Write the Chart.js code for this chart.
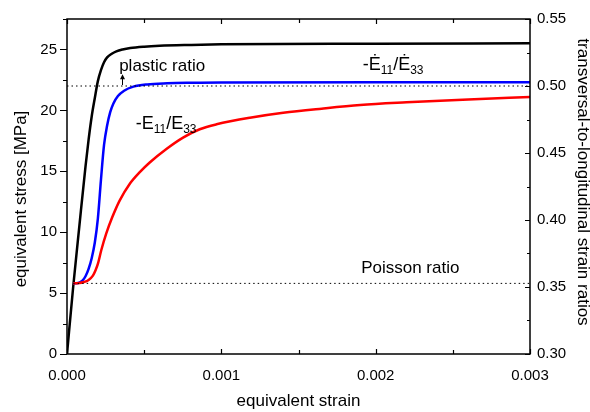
<!DOCTYPE html>
<html>
<head>
<meta charset="utf-8">
<script src="https://cdn.jsdelivr.net/npm/chart.js@4.4.1/dist/chart.umd.min.js"></script>
<style>
  html, body { margin: 0; padding: 0; background: #fff; }
  #wrap { width: 590px; height: 412px; position: relative; }
</style>
</head>
<body>
<div id="wrap"><canvas id="chart"></canvas></div>
<script>
// =========================
// DATA
// =========================
// black: equivalent stress vs equivalent strain (left axis)
const strainBlack = [0, 0.00004, 0.00008, 0.00012, 0.00014, 0.00016, 0.00018, 0.0002, 0.00022, 0.00024, 0.00026, 0.00029, 0.00032, 0.00036, 0.00041, 0.0005, 0.0006, 0.0008, 0.001, 0.002, 0.003];
const stressBlack = [0, 5.5, 10.5, 15.4, 17.6, 19.5, 21.0, 22.4, 23.3, 23.95, 24.35, 24.65, 24.85, 25.0, 25.12, 25.23, 25.3, 25.37, 25.42, 25.47, 25.5];

// blue: -dE11/dE33 (right axis)
const strainBlue = [0.00004, 0.00006, 0.00008, 0.0001, 0.00012, 0.00014, 0.00016, 0.00018, 0.0002, 0.00022, 0.00024, 0.00026, 0.00028, 0.0003, 0.00033, 0.00037, 0.00043, 0.00052, 0.00065, 0.0008, 0.001, 0.002, 0.003];
const ratioBlue = [0.3527, 0.3528, 0.3533, 0.3547, 0.358, 0.3635, 0.3715, 0.383, 0.401, 0.43, 0.456, 0.4705, 0.4805, 0.4868, 0.4925, 0.4965, 0.4995, 0.5012, 0.502, 0.5024, 0.5027, 0.5028, 0.5028];

// red: -E11/E33 (right axis)
const strainRed = [0.00004, 0.00008, 0.00011, 0.00014, 0.000168, 0.000185, 0.0002, 0.000222, 0.000254, 0.000293, 0.000341, 0.000406, 0.00047, 0.000536, 0.000644, 0.000752, 0.00086, 0.000969, 0.001185, 0.001401, 0.00165, 0.0019, 0.0022, 0.0026, 0.003];
const ratioRed = [0.3527, 0.3529, 0.3537, 0.3553, 0.3585, 0.3625, 0.3672, 0.3774, 0.3898, 0.402, 0.4145, 0.4269, 0.4355, 0.4429, 0.453, 0.4615, 0.4677, 0.4714, 0.4763, 0.48, 0.4831, 0.4858, 0.4878, 0.49, 0.4918];

// reference lines
const plasticRatio = 0.5;
const poissonRatio = 0.3527;
const plasticStrain = [0, 0.003];
const poissonStrain = [0.00004, 0.003];

// axes
const strainTicks = [0, 0.001, 0.002, 0.003];
const strainTickLabels = ["0.000", "0.001", "0.002", "0.003"];
const stressTicks = [0, 5, 10, 15, 20, 25];
const ratioTicks = [0.30, 0.35, 0.40, 0.45, 0.50, 0.55];
const ratioTickLabels = ["0.30", "0.35", "0.40", "0.45", "0.50", "0.55"];

const FONT = "'Liberation Sans', Arial, sans-serif";

function toPoints(xs, ys) {
    return xs.map((x, i) => ({ x: x, y: ys[i] }));
}

// =========================
// PLUGIN: frame, ticks, titles, labels
// =========================
const framePlugin = {
    id: 'frame',
    afterDraw(chart) {
        const ctx = chart.ctx;
        const a = chart.chartArea;
        const sx = chart.scales.x, yl = chart.scales.yL, yr = chart.scales.yR;
        ctx.save();
        ctx.strokeStyle = '#000';
        ctx.lineWidth = 1.5;
        ctx.strokeRect(a.left, a.top, a.right - a.left, a.bottom - a.top);

        ctx.lineWidth = 1.2;
        ctx.beginPath();
        // x ticks, inward at bottom and top
        for (let i = 0; i <= 6; i++) {
            const px = Math.round(sx.getPixelForValue(i * 0.0005)) + 0.5;
            const len = i % 2 === 0 ? 5 : 4;
            ctx.moveTo(px, a.bottom); ctx.lineTo(px, a.bottom - len);
            ctx.moveTo(px, a.top); ctx.lineTo(px, a.top + len);
        }
        // left ticks, outward
        for (let i = 0; i <= 11; i++) {
            const py = Math.round(yl.getPixelForValue(i * 2.5)) + 0.5;
            ctx.moveTo(a.left, py); ctx.lineTo(a.left - (i % 2 === 0 ? 7 : 4), py);
        }
        // right ticks, inward
        for (let i = 0; i <= 10; i++) {
            const py = Math.round(yr.getPixelForValue(0.30 + i * 0.025)) + 0.5;
            ctx.moveTo(a.right, py); ctx.lineTo(a.right - (i % 2 === 0 ? 5 : 3), py);
        }
        ctx.stroke();

        // axis titles
        ctx.fillStyle = '#000';
        ctx.font = '17px ' + FONT;
        ctx.textAlign = 'center';
        ctx.textBaseline = 'middle';
        ctx.fillText('equivalent strain', (a.left + a.right) / 2, 401);
        ctx.save();
        ctx.translate(21, 199);
        ctx.rotate(-Math.PI / 2);
        ctx.fillText('equivalent stress [MPa]', 0, 0);
        ctx.restore();
        ctx.save();
        ctx.translate(583, 182);
        ctx.rotate(Math.PI / 2);
        ctx.fillText('transversal-to-longitudinal strain ratios', 0, 0);
        ctx.restore();

        // annotations
        ctx.textBaseline = 'alphabetic';
        ctx.textAlign = 'left';
        ctx.fillText('plastic ratio', sx.getPixelForValue(0.000338), yr.getPixelForValue(0.5115));
        ctx.fillText('Poisson ratio', sx.getPixelForValue(0.001906), yr.getPixelForValue(0.3603));

        // arrow to plastic ratio line
        const ax = Math.round(sx.getPixelForValue(0.000354)) + 0.5;
        const ay0 = yr.getPixelForValue(plasticRatio) - 1;
        const ay1 = yr.getPixelForValue(0.5087);
        ctx.lineWidth = 1;
        ctx.beginPath();
        ctx.moveTo(ax, ay0); ctx.lineTo(ax, ay1 + 3);
        ctx.stroke();
        ctx.beginPath();
        ctx.moveTo(ax, ay1); ctx.lineTo(ax - 2.5, ay1 + 5); ctx.lineTo(ax + 2.5, ay1 + 5);
        ctx.closePath(); ctx.fill();

        drawRatioLabel(ctx, '-E', '/E', sx.getPixelForValue(0.000445), yr.getPixelForValue(0.4679));
        drawRatioLabel(ctx, '-\u0116', '/\u0116', sx.getPixelForValue(0.001916), yr.getPixelForValue(0.512));
        ctx.restore();
    }
};

function drawRatioLabel(ctx, first, second, x, y) {
    const big = '18px ' + FONT, small = '12px ' + FONT;
    ctx.font = big; ctx.fillText(first, x, y); x += ctx.measureText(first).width;
    ctx.font = small; ctx.fillText('11', x, y + 4); x += ctx.measureText('11').width;
    ctx.font = big; ctx.fillText(second, x, y); x += ctx.measureText(second).width;
    ctx.font = small; ctx.fillText('33', x, y + 4);
}

// =========================
// CHART
// =========================
const lineStyle = { pointRadius: 0, borderWidth: 2.5, fill: false, cubicInterpolationMode: 'monotone' };
const dotted = { pointRadius: 0, borderWidth: 1, borderColor: '#000', borderDash: [1.5, 3], fill: false };

new Chart(document.getElementById('chart'), {
    type: 'line',
    data: {
        datasets: [
            Object.assign({ label: 'plastic', data: toPoints(plasticStrain, [plasticRatio, plasticRatio]), yAxisID: 'yR' }, dotted),
            Object.assign({ label: 'Poisson', data: toPoints(poissonStrain, [poissonRatio, poissonRatio]), yAxisID: 'yR' }, dotted),
            Object.assign({ label: '-E11/E33', data: toPoints(strainRed, ratioRed), borderColor: '#ff0000', yAxisID: 'yR' }, lineStyle),
            Object.assign({ label: '-dE11/dE33', data: toPoints(strainBlue, ratioBlue), borderColor: '#0000ff', yAxisID: 'yR' }, lineStyle),
            Object.assign({ label: 'stress', data: toPoints(strainBlack, stressBlack), borderColor: '#000000', yAxisID: 'yL' }, lineStyle)
        ]
    },
    options: {
        responsive: true,
        maintainAspectRatio: false,
        animation: false,
        devicePixelRatio: 1,
        layout: { padding: { top: 17, left: 0, right: 0, bottom: 0 } },
        plugins: { legend: { display: false }, tooltip: { enabled: false } },
        scales: {
            x: {
                type: 'linear', position: 'bottom', min: 0, max: 0.003,
                afterBuildTicks: s => { s.ticks = strainTicks.map(v => ({ value: v })); },
                afterFit: s => { s.height = 58; },
                ticks: {
                    callback: (v) => strainTickLabels[strainTicks.indexOf(v)] ?? '',
                    font: { size: 15, family: FONT }, color: '#000', padding: 13, maxRotation: 0
                },
                grid: { display: false, drawTicks: false },
                border: { display: false }
            },
            yL: {
                type: 'linear', position: 'left', min: 0, max: 27.5,
                afterBuildTicks: s => { s.ticks = stressTicks.map(v => ({ value: v })); },
                afterFit: s => { s.width = 67; },
                ticks: { font: { size: 15, family: FONT }, color: '#000', padding: 10 },
                grid: { display: false, drawTicks: false },
                border: { display: false }
            },
            yR: {
                type: 'linear', position: 'right', min: 0.30, max: 0.55,
                afterBuildTicks: s => { s.ticks = ratioTicks.map(v => ({ value: v })); },
                afterFit: s => { s.width = 60; },
                ticks: {
                    callback: (v) => ratioTickLabels[ratioTicks.findIndex(t => Math.abs(t - v) < 1e-9)] ?? '',
                    font: { size: 15, family: FONT }, color: '#000', padding: 7
                },
                grid: { display: false, drawTicks: false },
                border: { display: false }
            }
        }
    },
    plugins: [framePlugin]
});
</script>
</body>
</html>
